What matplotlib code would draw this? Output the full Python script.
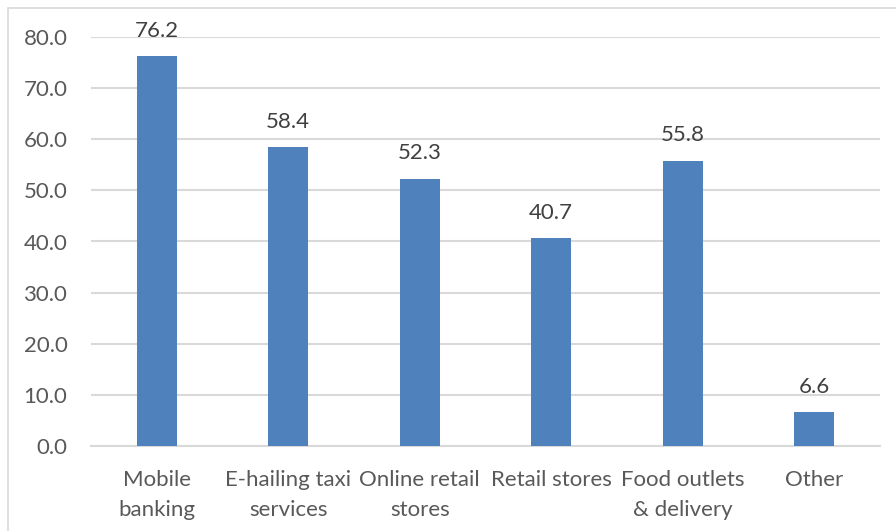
import matplotlib.pyplot as plt
from matplotlib.patches import Rectangle

categories = ['Mobile\nbanking', 'E-hailing taxi\nservices', 'Online retail\nstores',
              'Retail stores', 'Food outlets\n& delivery', 'Other']
values = [76.2, 58.4, 52.3, 40.7, 55.8, 6.6]
yticks = [0, 10, 20, 30, 40, 50, 60, 70, 80]

plt.rcParams['font.family'] = ['Lato', 'DejaVu Sans']

fig = plt.figure(figsize=(8.96, 5.31), dpi=100)
ax = fig.add_axes([91 / 896, 1 - 446 / 531, (880 - 91) / 896, (446 - 37) / 531])

# chart border (cropped on the right and bottom)
fig.patches.append(Rectangle((8 / 896, -0.05), 1.1, 0.985 + 0.05, transform=fig.transFigure,
                             fill=False, edgecolor='#d9d9d9', linewidth=1.2))

x = range(len(values))
bars = ax.bar(x, values, width=0.305, color='#4f81bd', zorder=3)
for xi, v in zip(x, values):
    ax.annotate('%.1f' % v, (xi, v), xytext=(0, 11), textcoords='offset points',
                ha='center', va='bottom', fontsize=16, color='#404040')

ax.set_xlim(-0.5, len(values) - 0.5)
ax.set_ylim(0, 80)
ax.set_yticks(yticks)
ax.set_yticklabels(['%.1f' % t for t in yticks])
ax.set_xticks(list(x))
ax.set_xticklabels(categories, linespacing=1.65)
ax.yaxis.grid(True, color='#d9d9d9', linewidth=1.5, zorder=0)
ax.tick_params(axis='both', length=0, labelsize=16, labelcolor='#595959')
ax.tick_params(axis='x', pad=17)
ax.tick_params(axis='y', pad=17)
for s in ['top', 'right', 'left']:
    ax.spines[s].set_visible(False)
ax.spines['bottom'].set_color('#d9d9d9')
ax.spines['bottom'].set_linewidth(1.5)

plt.savefig('out.png', dpi=100)
